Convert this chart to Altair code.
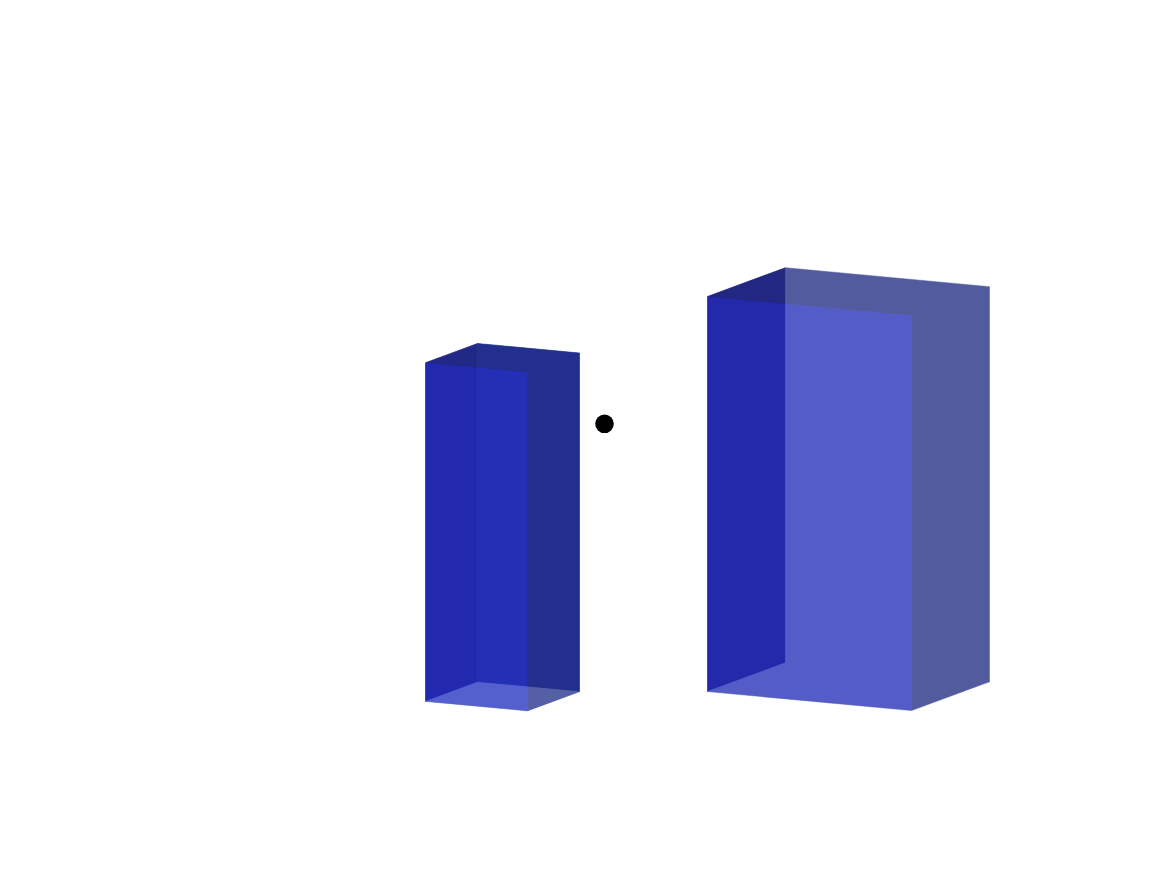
import altair as alt
import pandas as pd

# two boxes: corner position and size (data units)
box_x = [0, 2]
box_y = [0, 3]
box_z = [0, 0]
box_dx = [1, 2]
box_dy = [2, 3]
box_dz = [6, 7]

# single point
point_x = [1.5]
point_y = [1.0]
point_z = [5.0]

# screen direction of one data unit along x, y, z (pixels, up is positive)
EX = (102.0, -9.5)
EY = (26.0, 9.6)
EZ = (0.0, 56.45)

W, H = 1152, 861
ORIGIN = (417.5, 693.4)  # where (0, 0, 0) lands inside the view

# face shading; far faces are opaque, near faces are see-through
FRONT_ALPHA = 0.5
face_colors = [
    {"left": "#1E2486", "back": "#1E3296", "bottom": "#8292C8",
     "front": "#282ED6", "right": "#262C84", "top": "#262C84"},
    {"left": "#1E247E", "back": "#808ABA", "bottom": "#808ABA",
     "front": "#282ED6", "right": "#262C84", "top": "#262C84"},
]

faces = {
    "left": [(0, 0, 0), (0, 1, 0), (0, 1, 1), (0, 0, 1)],
    "back": [(0, 1, 0), (1, 1, 0), (1, 1, 1), (0, 1, 1)],
    "bottom": [(0, 0, 0), (1, 0, 0), (1, 1, 0), (0, 1, 0)],
    "front": [(0, 0, 0), (1, 0, 0), (1, 0, 1), (0, 0, 1)],
    "right": [(1, 0, 0), (1, 1, 0), (1, 1, 1), (1, 0, 1)],
    "top": [(0, 0, 1), (1, 0, 1), (1, 1, 1), (0, 1, 1)],
}
far_faces = ["left", "back", "bottom"]

rows = []
for b in range(len(box_x)):
    for name, corners in faces.items():
        for v, (i, j, k) in enumerate(corners):
            rows.append({
                "face": f"{b}_{name}",
                "layer": "far" if name in far_faces else "near",
                "vertex": v,
                "x": box_x[b] + i * box_dx[b],
                "y": box_y[b] + j * box_dy[b],
                "z": box_z[b] + k * box_dz[b],
                "color": face_colors[b][name],
            })
df_faces = pd.DataFrame(rows)
df_point = pd.DataFrame({"x": point_x, "y": point_y, "z": point_z})

px_expr = f"datum.x * {EX[0]} + datum.y * {EY[0]} + datum.z * {EZ[0]}"
py_expr = f"datum.x * {EX[1]} + datum.y * {EY[1]} + datum.z * {EZ[1]}"

xs = alt.Scale(domain=[-ORIGIN[0], W - ORIGIN[0]])
ys = alt.Scale(domain=[ORIGIN[1] - H, ORIGIN[1]])


def face_layer(layer, opacity):
    return alt.Chart(df_faces).transform_filter(
        alt.datum.layer == layer
    ).transform_calculate(
        px=px_expr, py=py_expr
    ).mark_line(
        interpolate="linear-closed", fillOpacity=opacity,
        strokeWidth=0.6 if opacity == 1 else 0
    ).encode(
        x=alt.X("px:Q", scale=xs, axis=None),
        y=alt.Y("py:Q", scale=ys, axis=None),
        detail="face:N",
        order="vertex:Q",
        fill=alt.Fill("color:N", scale=None),
        stroke=alt.Stroke("color:N", scale=None),
    )


far = face_layer("far", 1)
near = face_layer("near", FRONT_ALPHA)

dot = alt.Chart(df_point).transform_calculate(
    px=px_expr, py=py_expr
).mark_circle(size=346, color="black", opacity=1).encode(
    x=alt.X("px:Q", scale=xs, axis=None),
    y=alt.Y("py:Q", scale=ys, axis=None),
)

chart = alt.layer(far, near, dot).properties(
    width=W, height=H, padding=0,
    autosize=alt.AutoSizeParams(type="none"),
    background="white",
).configure_view(stroke=None)

chart.save("out.html", embed_options={"renderer": "svg", "actions": False})
